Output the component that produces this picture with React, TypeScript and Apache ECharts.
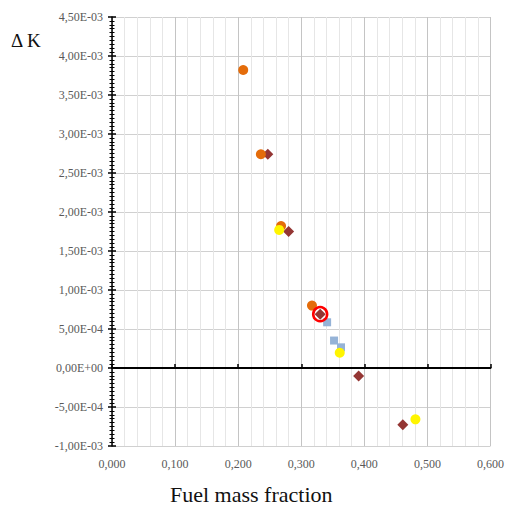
import React, { useEffect, useRef } from "react";
import * as echarts from "echarts";

const xTicks = [0, 0.1, 0.2, 0.3, 0.4, 0.5, 0.6];
const orangeSeries: [number, number][] = [
  [0.208, 3.82e-3],
  [0.236, 2.74e-3],
  [0.268, 1.82e-3],
  [0.317, 0.80e-3],
];
const diamondSeries: [number, number][] = [
  [0.247, 2.74e-3],
  [0.28, 1.75e-3],
  [0.33, 0.69e-3],
  [0.391, -0.103e-3],
  [0.461, -0.728e-3],
];
const yellowSeries: [number, number][] = [
  [0.265, 1.77e-3],
  [0.361, 0.195e-3],
  [0.481, -0.658e-3],
];
const blueSeries: [number, number][] = [
  [0.341, 0.586e-3],
  [0.352, 0.352e-3],
  [0.363, 0.265e-3],
];
const ringSeries: [number, number][] = [[0.33, 0.69e-3]];

const Y_MIN = -1e-3;
const Y_MAX = 4.5e-3;
const Y_STEP = 5e-4;

function fmtY(v: number): string {
  if (Math.abs(v) < 1e-12) return "0,00E+00";
  const s = v.toExponential(2);
  const [m, e] = s.split("e");
  const n = parseInt(e, 10);
  const sign = n < 0 ? "-" : "+";
  const ab = Math.abs(n);
  return m.replace(".", ",") + "E" + sign + (ab < 10 ? "0" + ab : String(ab));
}
function fmtX(v: number): string {
  return v.toFixed(3).replace(".", ",");
}

export default function App() {
  const ref = useRef<HTMLDivElement>(null);
  useEffect(() => {
    if (!ref.current) return;
    const chart = echarts.init(ref.current, null, { renderer: "svg" });
    const font = "'Liberation Serif', serif";
    const baseX = {
      type: "value" as const,
      min: 0,
      max: 0.6,
      interval: 0.1,
    };
    const baseY = {
      type: "value" as const,
      min: Y_MIN,
      max: Y_MAX,
      interval: Y_STEP,
    };
    chart.setOption({
      animation: false,
      grid: { left: 112, right: 15, top: 17, bottom: 60, containLabel: false },
      xAxis: [
        {
          ...baseX,
          position: "bottom",
          axisLine: { show: false, onZero: false },
          axisTick: { show: false },
          axisLabel: {
            formatter: fmtX,
            color: "#595959",
            fontFamily: font,
            fontSize: 12,
            margin: 12,
            customValues: xTicks,
          },
          splitLine: { show: true, lineStyle: { color: "#C4C4C4", width: 1 } },
          minorTick: { show: false, splitNumber: 5 },
          minorSplitLine: { show: true, lineStyle: { color: "#E6E6E6", width: 1 } },
        },
        {
          ...baseX,
          axisLine: { show: true, onZero: true, lineStyle: { color: "#000", width: 2 } },
          axisTick: { show: true, inside: false, length: 4, lineStyle: { color: "#000", width: 1.5 } },
          axisLabel: { show: false },
          splitLine: { show: false },
        },
      ],
      yAxis: [
        {
          ...baseY,
          axisLine: { show: true, onZero: false, lineStyle: { color: "#000", width: 1.5 } },
          axisTick: { show: true, length: 4, lineStyle: { color: "#000", width: 1.5 } },
          minorTick: { show: true, splitNumber: 10, length: 2.5, lineStyle: { color: "#000" } },
          axisLabel: {
            formatter: fmtY,
            color: "#595959",
            fontFamily: font,
            fontSize: 12,
            margin: 9,
          },
          splitLine: { show: true, lineStyle: { color: "#D0D0D0", width: 1 } },
        },
        {
          ...baseY,
          position: "left",
          axisLine: { show: false, onZero: false },
          axisTick: { show: true, inside: true, length: 4, lineStyle: { color: "#000", width: 1.5 } },
          minorTick: { show: true, splitNumber: 10, length: 2.5, lineStyle: { color: "#000" } },
          axisLabel: { show: false },
          splitLine: { show: false },
        },
      ],
      series: [
        {
          type: "scatter",
          data: blueSeries,
          symbol: "rect",
          symbolSize: 8,
          itemStyle: { color: "#95B3D7", opacity: 1 },
        },
        {
          type: "scatter",
          data: diamondSeries,
          symbol: "diamond",
          symbolSize: 11,
          itemStyle: { color: "#943634", opacity: 1 },
        },
        {
          type: "scatter",
          data: orangeSeries,
          symbol: "circle",
          symbolSize: 10,
          itemStyle: { color: "#E46C0A", opacity: 1 },
        },
        {
          type: "scatter",
          data: yellowSeries,
          symbol: "circle",
          symbolSize: 10,
          itemStyle: { color: "#FFF500", opacity: 1 },
        },
        {
          type: "scatter",
          data: ringSeries,
          symbol: "circle",
          symbolSize: 14,
          itemStyle: { color: "rgba(0,0,0,0)", borderColor: "#FF0000", borderWidth: 2.5, opacity: 1 },
        },
      ],
      graphic: [
        {
          type: "text",
          left: 11,
          top: 31,
          style: { text: "Δ K", font: "19px " + font, fill: "#111" },
        },
        {
          type: "text",
          left: 170,
          top: 483,
          style: { text: "Fuel mass fraction", font: "22px " + font, fill: "#111" },
        },
      ],
    });
    return () => chart.dispose();
  }, []);
  return (
    <div
      ref={ref}
      style={{ position: "fixed", left: 0, top: 0, width: 507, height: 506, background: "#fff" }}
    />
  );
}
